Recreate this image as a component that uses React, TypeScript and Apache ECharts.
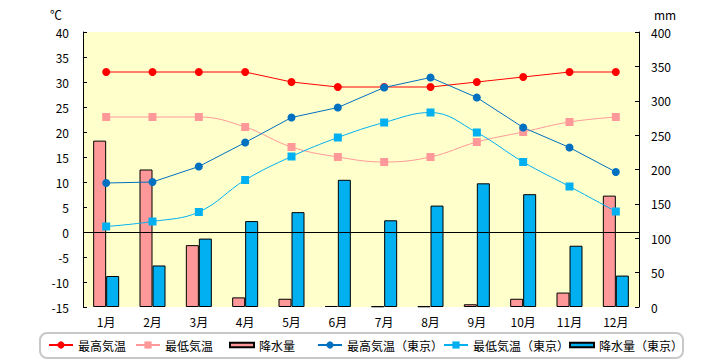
import React, { useEffect, useRef } from "react";
import * as echarts from "echarts";

const months = ["1月", "2月", "3月", "4月", "5月", "6月", "7月", "8月", "9月", "10月", "11月", "12月"];
const maxTemp = [32, 32, 32, 32, 30, 29, 29, 29, 30, 31, 32, 32];
const minTemp = [23, 23, 23, 21, 17, 15, 14, 15, 18, 20, 22, 23];
const rain = [242, 200, 90, 14, 12, 1.5, 1, 1, 4, 12, 21, 162];
const maxTempTokyo = [9.8, 10.0, 13.1, 17.9, 22.9, 24.9, 28.9, 30.9, 26.9, 20.9, 16.9, 12.0];
const minTempTokyo = [1.1, 2.1, 4.0, 10.4, 15.1, 18.9, 21.9, 23.9, 19.9, 14.0, 9.1, 4.1];
const rainTokyo = [45.1, 60.4, 99.5, 125.0, 138.0, 185.0, 126.1, 147.5, 179.9, 164.1, 89.1, 45.7];

const names = ["最高気温", "最低気温", "降水量", "最高気温（東京）", "最低気温（東京）", "降水量（東京）"];
const legendLefts = [48, 135, 229, 317, 443, 569];

const FONT = "'Noto Sans CJK JP', 'Noto Sans', sans-serif";

export default function App() {
  const ref = useRef<HTMLDivElement>(null);
  useEffect(() => {
    if (!ref.current) return;
    const chart = echarts.init(ref.current, undefined, { renderer: "svg" });
    const barIcon = "path://M0,0H26V5H0Z";
    const legends = names.map((n, i) => ({
      data: [n],
      left: legendLefts[i],
      top: 339,
      padding: 0,
      itemGap: 0,
      itemWidth: 24,
      itemHeight: 9,
      selectedMode: false,
      icon: i === 2 || i === 5 ? barIcon : undefined,
      textStyle: { fontSize: 12, color: "#000", fontFamily: FONT },
    }));
    chart.setOption({
      animation: false,
      textStyle: { fontFamily: FONT },
      grid: {
        left: 83,
        right: 81,
        top: 32,
        bottom: 53,
        show: true,
        backgroundColor: "#FFFFCC",
        borderWidth: 0,
      },
      graphic: [
        {
          type: "rect",
          shape: { x: 40, y: 333, width: 643, height: 25, r: 7 },
          style: { fill: "#fff", stroke: "#c8c8c8", lineWidth: 2 },
          z: -1,
        },
        {
          type: "text",
          left: 50,
          top: 8,
          style: { text: "℃", fontSize: 12, fill: "#000", fontFamily: FONT },
        },
        {
          type: "text",
          left: 654,
          top: 8,
          style: { text: "mm", fontSize: 12, fill: "#000", fontFamily: FONT },
        },
      ],
      legend: legends,
      xAxis: {
        type: "category",
        data: months,
        boundaryGap: true,
        axisLine: { show: false },
        axisTick: { show: false },
        axisLabel: { color: "#000", fontSize: 12, margin: 8, fontFamily: FONT },
      },
      yAxis: [
        {
          type: "value",
          min: -15,
          max: 40,
          interval: 5,
          position: "left",
          splitLine: { show: false },
          axisLine: { show: true, lineStyle: { color: "#000", width: 1 } },
          axisTick: { show: true, inside: true, length: 4, lineStyle: { color: "#000" } },
          axisLabel: { color: "#000", fontSize: 12, margin: 14, fontFamily: FONT },
        },
        {
          type: "value",
          min: 0,
          max: 400,
          interval: 50,
          position: "right",
          splitLine: { show: false },
          axisLine: { show: true, lineStyle: { color: "#000", width: 1 } },
          axisTick: { show: true, inside: true, length: 4, lineStyle: { color: "#000" } },
          axisLabel: { color: "#000", fontSize: 12, margin: 12, fontFamily: FONT },
        },
      ],
      series: [
        {
          name: "降水量",
          type: "bar",
          yAxisIndex: 1,
          data: rain,
          barWidth: 13,
          barGap: "0%",
          itemStyle: { color: "#FF9999", borderColor: "#000", borderWidth: 1 },
        },
        {
          name: "降水量（東京）",
          type: "bar",
          yAxisIndex: 1,
          data: rainTokyo,
          barWidth: 13,
          barGap: "0%",
          itemStyle: { color: "#00B0F0", borderColor: "#000", borderWidth: 1 },
        },
        {
          name: "最高気温",
          type: "line",
          yAxisIndex: 0,
          data: maxTemp,
          symbol: "circle",
          symbolSize: 8,
          lineStyle: { color: "#FF0000", width: 1 },
          itemStyle: { color: "#FF0000" },
          markLine: {
            silent: true,
            symbol: ["none", "none"],
            label: { show: false },
            lineStyle: { color: "#000", width: 1, type: "solid" },
            data: [{ yAxis: 0 }],
          },
        },
        {
          name: "最低気温",
          type: "line",
          yAxisIndex: 0,
          data: minTemp,
          smooth: 0.4,
          symbol: "rect",
          symbolSize: 8,
          lineStyle: { color: "#FF9999", width: 1 },
          itemStyle: { color: "#FF9999" },
        },
        {
          name: "最高気温（東京）",
          type: "line",
          yAxisIndex: 0,
          data: maxTempTokyo,
          symbol: "circle",
          symbolSize: 8,
          lineStyle: { color: "#0070C0", width: 1 },
          itemStyle: { color: "#0070C0" },
        },
        {
          name: "最低気温（東京）",
          type: "line",
          yAxisIndex: 0,
          data: minTempTokyo,
          smooth: 0.4,
          symbol: "rect",
          symbolSize: 8,
          lineStyle: { color: "#00B0F0", width: 1 },
          itemStyle: { color: "#00B0F0" },
        },
      ],
    });
    return () => chart.dispose();
  }, []);
  return <div ref={ref} style={{ width: 720, height: 360, position: "absolute", left: 0, top: 0 }} />;
}
